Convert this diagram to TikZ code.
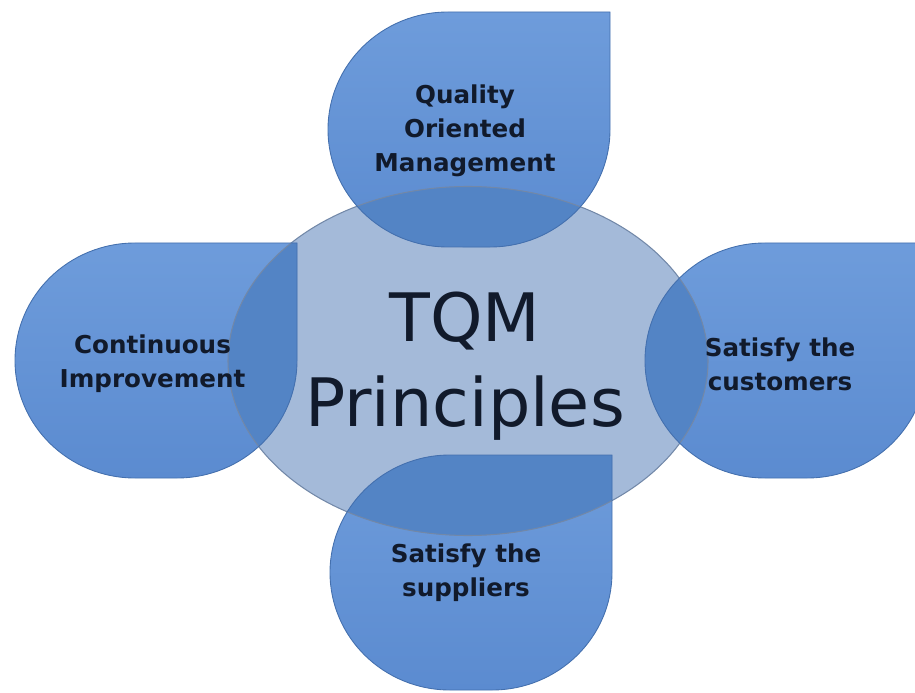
\documentclass[tikz,border=0pt]{standalone}
\usepackage{fontspec}
\setsansfont{DejaVu Sans}
\usepackage{tikz}
\usetikzlibrary{positioning,calc,shapes.geometric}
\definecolor{ink}{HTML}{111A2B}
\definecolor{core}{HTML}{A4BAD9}
\definecolor{coreln}{HTML}{7288A8}
\definecolor{droptop}{HTML}{6E9CDB}
\definecolor{dropbot}{HTML}{5B8BD0}
\definecolor{dropln}{HTML}{4470AE}
\definecolor{olap}{HTML}{5384C5}
\newcommand{\tearpath}{(5.64,0) -- (5.64,-2.35)
      arc[start angle=0,end angle=-90,x radius=2.4,y radius=2.35] -- (2.4,-4.7)
      arc[start angle=270,end angle=180,x radius=2.4,y radius=2.35] -- (0,-2.35)
      arc[start angle=180,end angle=90,x radius=2.4,y radius=2.35] -- cycle}
\tikzset{
  hub/.style={ellipse, draw=coreln, line width=0.6pt, fill=core, inner sep=0pt,
              minimum width=9.6cm, minimum height=6.98cm},
  drop/.style={top color=droptop, bottom color=dropbot},
  lbl/.style={align=center, text=ink, font=\sffamily\bfseries\fontsize{14}{19.5}\selectfont},
  big/.style={align=center, text=ink, font=\sffamily\fontsize{38}{48}\selectfont},
  pics/tear/.style={code={
    \path[drop] \tearpath;
    \begin{scope}
      \clip \tearpath;
      \fill[olap] (hub.center) ellipse[x radius=4.8cm, y radius=3.49cm];
      \draw[coreln, line width=0.6pt] (hub.center) ellipse[x radius=4.8cm, y radius=3.49cm];
    \end{scope}
    \draw[dropln, line width=0.5pt] \tearpath;
  }},
}
\begin{document}
\begin{tikzpicture}
  \useasboundingbox (0,0) rectangle (18.3,-13.86);
  \node[hub] (hub) at (9.36,-7.22) {};
  \pic at (6.56,-0.24) {tear};
  \pic at (0.30,-4.86) {tear};
  \pic at (12.90,-4.86) {tear};
  \pic at (6.60,-9.10) {tear};
  \node[lbl] (qom) at (9.30,-2.62) {Quality\\Oriented\\Management};
  \node[lbl] (ci) at (3.05,-7.28) {Continuous\\Improvement};
  \node[lbl] (cust) at (15.60,-7.28) {Satisfy the\\customers};
  \node[lbl] (supp) at (9.32,-11.46) {Satisfy the\\suppliers};
  \node[big] (tqm) at (9.30,-7.32) {TQM\\Principles};
\end{tikzpicture}
\end{document}
